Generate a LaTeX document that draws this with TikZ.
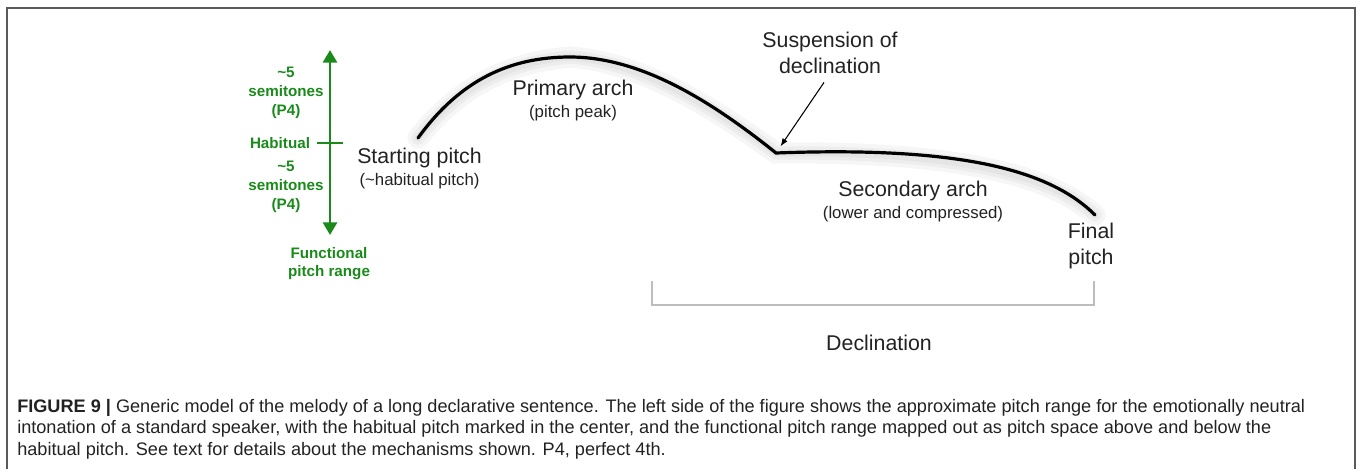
\documentclass[tikz,border=0pt]{standalone}
\usepackage{fontspec}
\setmainfont{Liberation Sans}
\newfontfamily\capfont{Liberation Sans}
\usetikzlibrary{arrows.meta,positioning}
\definecolor{Gc}{HTML}{1A8A1A}
\definecolor{Fc}{HTML}{5A5A5A}
\definecolor{Bc}{HTML}{BDBDBD}
\definecolor{Tc}{HTML}{222222}
\tikzset{
  lbl/.style={font=\fontsize{16}{19.5}\selectfont, text=Tc, align=center, inner sep=0pt},
  sub/.style={font=\fontsize{12.6}{15}\selectfont, text=Tc, align=center, inner sep=0pt},
  grn/.style={font=\bfseries\fontsize{11.4}{14}\selectfont, text=Gc, align=center, inner sep=0pt},
  pitchrange/.style={{Triangle[length=9.5pt,width=10.5pt]}-{Triangle[length=9.5pt,width=10.5pt]}, draw=Gc, line width=2.2pt},
  habtick/.style={draw=Gc, line width=2.2pt},
  pitch/.style={line width=2.4pt, line cap=round},
  glow/.style={draw=black, opacity=0.035, line cap=round},
  pointer/.style={-{Latex[length=6pt,width=4.5pt]}, line width=0.8pt},
  bracket/.style={draw=Bc, line width=1.5pt},
  figframe/.style={draw=Fc, line width=1.5pt},
}
\newcommand{\melody}{(s) .. controls (460,80) and (510,57) .. (pk)
  .. controls (640,57) and (710,100) .. (corner)
  .. controls (960,146) and (1050,170) .. (fin)}

\begin{document}
\begin{tikzpicture}[x=0.75pt, y=-0.75pt]
  \useasboundingbox (0,0) rectangle (1358,469);
  \draw[figframe] (7,469) -- (7,8) -- (1355,8) -- (1355,469);

  % functional pitch range
  \coordinate (rtop) at (330,50);
  \coordinate (rbot) at (330,235);
  \coordinate (hab) at (330,143);
  \draw[pitchrange] (rtop) -- (rbot);
  \draw[habtick] (hab) ++(-13,0) -- ++(26,0);
  \node[grn] (up) at (286,93) {\textasciitilde5\\semitones\\(P4)};
  \node[grn] (habl) at (280,143) {Habitual};
  \node[grn] (down) at (286,187) {\textasciitilde5\\semitones\\(P4)};
  \node[grn] (func) at (329,263.5) {Functional\\pitch range};

  % melody
  \coordinate (s) at (418,138);
  \coordinate (pk) at (570,57);
  \coordinate (corner) at (776,153);
  \coordinate (fin) at (1095,215);
  \begin{scope}[yshift=-4pt]
    \draw[glow, line width=16pt] \melody;
    \draw[glow, line width=10pt] \melody;
    \draw[glow, line width=5pt] \melody;
  \end{scope}
  \draw[pitch] \melody;

  \node[lbl] (start) at (419.5,158) {Starting pitch};
  \node[sub] (startsub) at (419.5,181) {(\textasciitilde habitual pitch)};
  \node[lbl] (prim) at (573,90) {Primary arch};
  \node[sub] (primsub) at (573,113) {(pitch peak)};
  \node[lbl] (susp) at (830,52.5) {Suspension of\\declination};
  \draw[pointer, shorten <=8pt, shorten >=6pt] (susp.south) -- (corner);
  \node[lbl] (sec) at (913,191) {Secondary arch};
  \node[sub] (secsub) at (913,214) {(lower and compressed)};
  \node[lbl] (final) at (1091,246) {Final\\pitch};

  % declination bracket
  \coordinate (bl) at (652,281);
  \coordinate (br) at (1094,281);
  \draw[bracket] (bl) -- ++(0,24) -| (br);
  \node[lbl] (decl) at (879,343) {Declination};

  % caption
  \node[anchor=base west, inner sep=0pt, align=left, text=Tc,
        font=\capfont\fontsize{13.6}{16.1}\selectfont] (cap) at (17,455)
    {\textbf{FIGURE 9 |} Generic model of the melody of a long declarative sentence. The left side of the figure shows the approximate pitch range for the emotionally neutral\\
     intonation of a standard speaker, with the habitual pitch marked in the center, and the functional pitch range mapped out as pitch space above and below the\\
     habitual pitch. See text for details about the mechanisms shown. P4, perfect 4th.};
\end{tikzpicture}
\end{document}
